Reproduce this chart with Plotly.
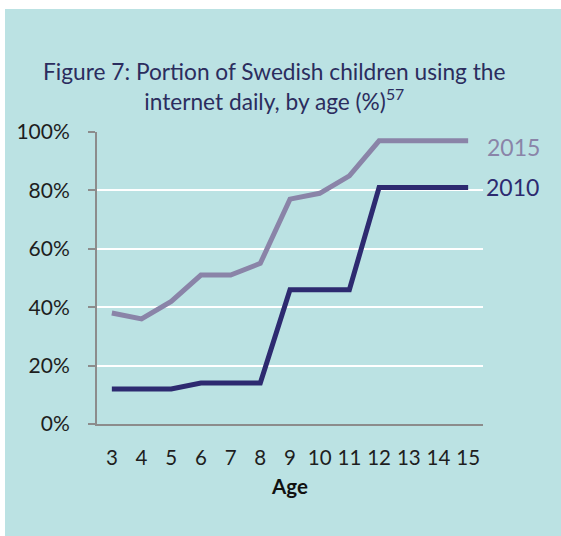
import plotly.graph_objects as go

# Daily internet use among Swedish children, by age
ages = [3, 4, 5, 6, 7, 8, 9, 10, 11, 12, 13, 14, 15]
share_2015 = [38, 36, 42, 51, 51, 55, 77, 79, 85, 97, 97, 97, 97]
share_2010 = [12, 12, 12, 14, 14, 14, 46, 46, 46, 81, 81, 81, 81]
y_ticks = [0, 20, 40, 60, 80, 100]
y_tick_labels = ["0%", "20%", "40%", "60%", "80%", "100%"]

BG = "#bbe2e3"
C2015 = "#8a84a8"
C2010 = "#2d2a70"
NAVY = "#2b2d5e"
FONT = "Lato"

W, H = 561, 536
L, R, T, B = 97, 78, 132, 112
pw, ph = W - L - R, H - T - B

fig = go.Figure()
fig.add_trace(go.Scatter(x=ages, y=share_2015, mode="lines", name="2015",
                         line=dict(color=C2015, width=5), showlegend=False))
fig.add_trace(go.Scatter(x=ages, y=share_2010, mode="lines", name="2010",
                         line=dict(color=C2010, width=5), showlegend=False))

# teal panel behind the whole chart
fig.add_shape(type="rect", xref="paper", yref="paper", layer="below",
              x0=(5 - L) / pw, x1=(W - L) / pw,
              y0=(T + ph - H) / ph, y1=(T + ph - 9) / ph,
              fillcolor=BG, line=dict(width=0))

fig.add_annotation(x=ages[-1], y=share_2015[-1], xref="x", yref="y",
                   text="2015", showarrow=False, xanchor="left", xshift=17, yshift=-6,
                   font=dict(family=FONT, size=23, color=C2015))
fig.add_annotation(x=ages[-1], y=share_2010[-1], xref="x", yref="y",
                   text="2010", showarrow=False, xanchor="left", xshift=16,
                   font=dict(family=FONT, size=23, color=C2010))

fig.add_annotation(x=0.5, y=(T + ph - 86) / ph, xref="paper", yref="paper",
                   text="Figure 7: Portion of Swedish children using the<br>internet daily, by age (%)<sup>57</sup>",
                   showarrow=False, xanchor="center", yanchor="middle", xshift=-16,
                   font=dict(family=FONT, size=22.7, color=NAVY))

fig.update_layout(
    width=W, height=H,
    margin=dict(l=L, r=R, t=T, b=B, pad=0),
    paper_bgcolor="white", plot_bgcolor=BG,
    font=dict(family=FONT, color="#1e1e1e"),
    xaxis=dict(range=[2.5, 15.5], tickvals=ages, ticktext=[str(a) for a in ages],
               showgrid=False, zeroline=False, showline=True, linecolor="#8c8c8c",
               linewidth=2, ticks="", tickfont=dict(size=20.5, color="#1e1e1e"),
               ticklabelstandoff=14,
               title=dict(text="<b>Age</b>", font=dict(size=20.5, color="#111"), standoff=12)),
    yaxis=dict(range=[0, 100], tickvals=y_ticks, ticktext=y_tick_labels,
               showgrid=True, gridcolor="white", gridwidth=2, zeroline=False,
               showline=True, linecolor="#8c8c8c", linewidth=2,
               ticks="outside", ticklen=7, tickcolor="#8c8c8c", tickwidth=2,
               ticklabelstandoff=14, tickfont=dict(size=21, color="#1e1e1e")),
)

fig.write_html("out.html")
